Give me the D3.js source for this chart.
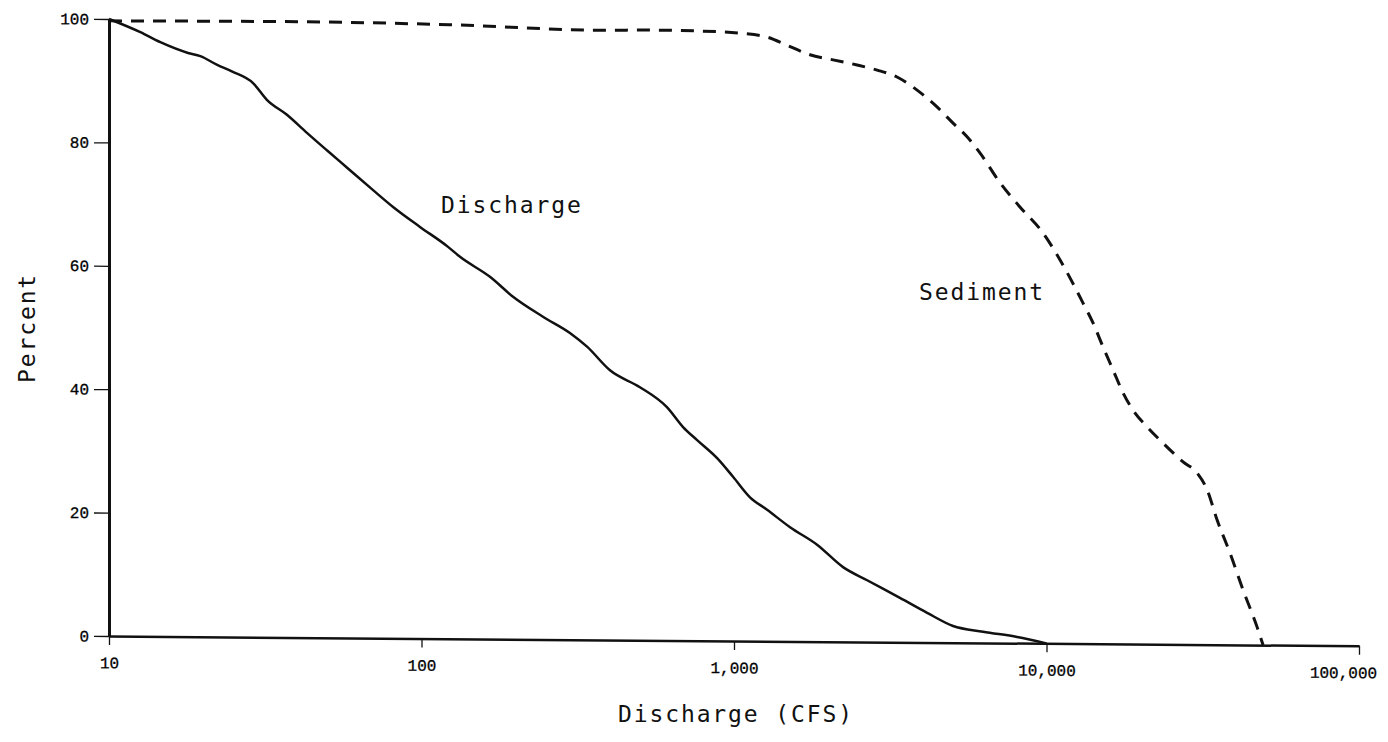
<!DOCTYPE html>
<html>
<head>
<meta charset="utf-8">
<script src="https://cdn.jsdelivr.net/npm/d3@7"></script>
<style>
    body { margin: 0; background: #fff; }
    .tick text { font-family: 'Liberation Mono', monospace; font-size: 16px; fill: #000; stroke: #000; stroke-width: 0.3px; }
    .label { font-family: 'DejaVu Sans Mono', monospace; font-size: 23px; letter-spacing: 1.9px; fill: #111; }
</style>
</head>
<body>
<svg class="chart" width="1388" height="742"></svg>
<script>
// values
var dischargeCfs = [10, 12.6, 14.6, 17.9, 19.6, 22.2, 24.9, 28.9, 32, 37.1, 43, 49.8, 57.8, 70, 81.1, 98.9, 121.6,
    132.8, 165.6, 196.3, 244.7, 298.5, 338.6, 401, 500, 610, 687, 762,
    883, 993, 1125, 1276, 1511, 1844, 2233, 2667, 3396, 4150, 5023, 6266, 8054, 10000]
var dischargePct = [100, 97.9, 96.3, 94.6, 94.1, 92.7, 91.6, 89.8, 87.1, 84.7, 81.8, 79.0, 76.2, 72.6, 69.9, 66.7, 63.5,
    61.9, 58.7, 55.5, 52.3, 49.7, 47.5, 43.7, 41.0, 37.8, 34.6, 32.5,
    29.6, 26.6, 23.3, 21.3, 18.5, 15.7, 12.1, 10.0, 7.2, 4.8, 2.7, 1.8, 1.0, 0]

var sedimentCfs = [10, 40, 123, 372, 538, 778, 1045, 1276, 1479, 1750, 2075, 2476, 2870, 3324, 3854, 4463, 5023, 5570,
    6124, 7098, 8222, 9750, 11040, 13090, 14090, 15170, 16330, 17580, 18920, 20990, 23610, 27350,
    30340, 32660, 35160, 38640, 42560, 47210, 49320]
var sedimentPct = [99.7, 99.8, 99.5, 98.8, 98.9, 98.8, 98.5, 97.9, 96.6, 95.1, 94.3, 93.5, 92.7, 91.6, 89.5, 86.8, 84.2, 82.0,
    79.4, 74.6, 70.7, 66.5, 62.2, 55.2, 52.0, 48.1, 44.4, 40.7, 37.9, 35.2, 32.6, 29.6,
    27.8, 25.1, 20.2, 14.9, 8.9, 2.9, 0]

var xTicks = [10, 100, 1000, 10000, 100000]
var xTickLabels = ['10', '100', '1,000', '10,000', '100,000']
var yTicks = [0, 20, 40, 60, 80, 100]

var svg = d3.select('.chart')

var xScale = d3.scaleLog().domain([10, 100000]).range([109, 1359])
var yScale = d3.scaleLinear().domain([0, 100]).range([636, 19])

// the scan is slightly tilted: x axis runs a bit downhill
var plotG = svg.append('g')
    .attr('transform', 'translate(109,0) skewY(0.45) translate(-109,0)')

var xAxis = d3.axisBottom(xScale)
    .tickValues(xTicks)
    .tickFormat((d, i) => xTickLabels[i])
    .tickSize(9)
    .tickSizeOuter(0)
    .tickPadding(12)

var yAxis = d3.axisLeft(yScale)
    .tickValues(yTicks)
    .tickSize(15)
    .tickSizeOuter(0)
    .tickPadding(5)

var xG = plotG.append('g').attr('class', 'x-axis')
    .attr('transform', 'translate(0,' + yScale(0) + ')')
    .call(xAxis)
xG.select('.domain').attr('stroke', '#111').attr('stroke-width', 2.5)
xG.selectAll('.tick line').attr('stroke', '#111').attr('stroke-width', 1.3)
// last label sits a little left of its tick in the original
xG.selectAll('.tick text').filter(d => d === 100000).attr('dx', -16)

var yG = plotG.append('g').attr('class', 'y-axis')
    .attr('transform', 'translate(' + xScale(10) + ',0)')
    .call(yAxis)
yG.select('.domain').attr('stroke', '#111').attr('stroke-width', 3)
yG.selectAll('.tick line').attr('stroke', '#111').attr('stroke-width', 1.3)

var line = d3.line()
    .x(d => xScale(d[0]))
    .y(d => yScale(d[1]))
    .curve(d3.curveMonotoneX)

plotG.append('path')
    .datum(dischargeCfs.map((c, i) => [c, dischargePct[i]]))
    .attr('class', 'discharge')
    .attr('d', line)
    .attr('fill', 'none')
    .attr('stroke', '#111')
    .attr('stroke-width', 2.5)

plotG.append('path')
    .datum(sedimentCfs.map((c, i) => [c, sedimentPct[i]]))
    .attr('class', 'sediment')
    .attr('d', line)
    .attr('fill', 'none')
    .attr('stroke', '#111')
    .attr('stroke-width', 3)
    .attr('stroke-dasharray', '13,9')

// labels
svg.append('text').attr('class', 'label')
    .text('Discharge')
    .attr('x', 441).attr('y', 213)

svg.append('text').attr('class', 'label')
    .text('Sediment')
    .attr('x', 919).attr('y', 300)

svg.append('text').attr('class', 'label')
    .text('Discharge (CFS)')
    .attr('text-anchor', 'middle')
    .attr('x', 736).attr('y', 722)

svg.append('text').attr('class', 'label')
    .text('Percent')
    .attr('text-anchor', 'middle')
    .attr('transform', 'translate(35,328) rotate(-90)')
</script>
</body>
</html>
